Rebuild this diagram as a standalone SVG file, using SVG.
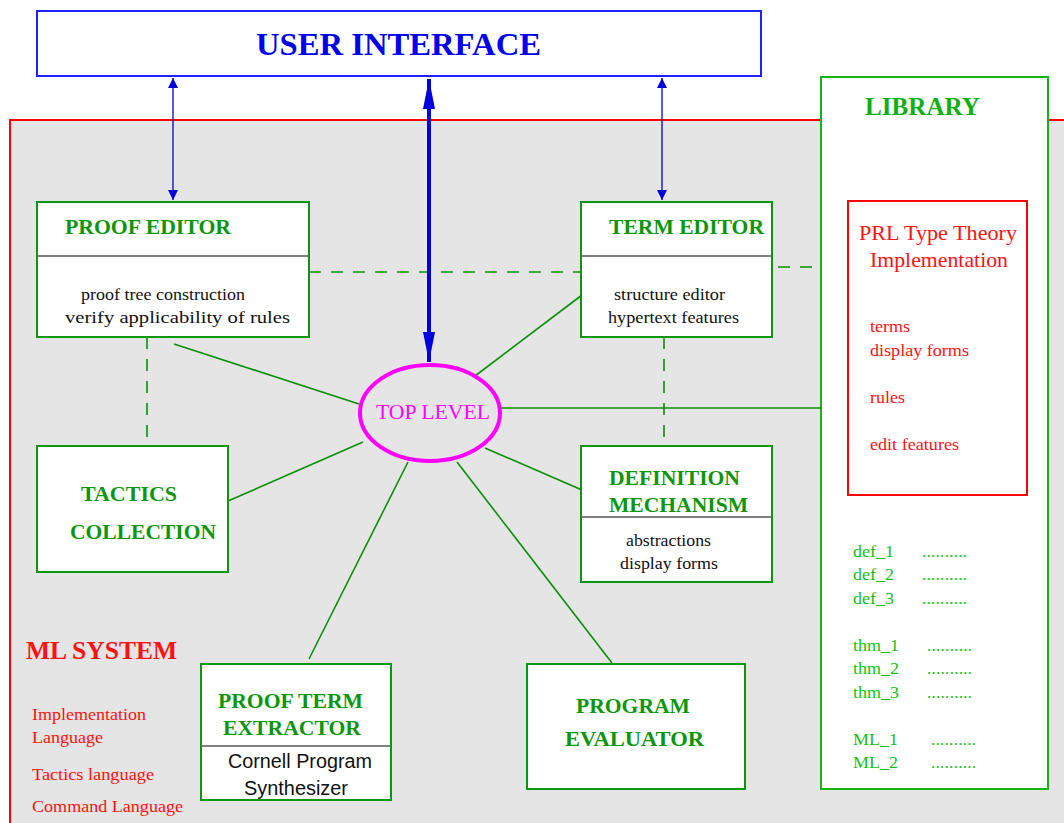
<svg xmlns="http://www.w3.org/2000/svg" width="1064" height="823" viewBox="0 0 1064 823">
  <style>
    .serif { font-family: "Liberation Serif", "Times New Roman", serif; }
    .sans { font-family: "Liberation Sans", Arial, sans-serif; }
    .box { fill: #ffffff; stroke: #0b960b; stroke-width: 2; }
    .lib { fill: #ffffff; stroke: #14b414; stroke-width: 2; }
    .divider { stroke: #555555; stroke-width: 1.5; }
    .title { font-family: "Liberation Serif", "Times New Roman", serif; font-weight: bold; fill: #0b960b; font-size: 21px; }
    .body { font-family: "Liberation Serif", "Times New Roman", serif; font-size: 17px; fill: #111111; }
    .link { stroke: #0b8f0b; stroke-width: 1.6; fill: none; }
    .dash { stroke: #0b8f0b; stroke-width: 1.6; fill: none; stroke-dasharray: 12 10; }
    .red { fill: #ff1111; }
    .libtext { font-family: "Liberation Serif", "Times New Roman", serif; font-size: 17px; fill: #14c014; }
  </style>
  <defs>
    <marker id="thin" viewBox="0 0 10 16" refX="10" refY="8" markerWidth="10" markerHeight="16" markerUnits="userSpaceOnUse" orient="auto-start-reverse">
      <path d="M0,3 L10,8 L0,13 Z" fill="#0000dd"/>
    </marker>
    <marker id="thick" viewBox="0 0 30 12" refX="30" refY="6" markerWidth="30" markerHeight="12" markerUnits="userSpaceOnUse" orient="auto-start-reverse">
      <path d="M0,0 L30,6 L0,12 Z" fill="#0000dd"/>
    </marker>
  </defs>

  <rect width="1064" height="823" fill="#ffffff"/>

  <!-- ML system frame -->
  <g id="ml-system">
    <rect x="10" y="120" width="1070" height="720" fill="#e5e5e5" stroke="#ff0000" stroke-width="2"/>
    <text class="serif red" x="26" y="659" font-size="25" font-weight="bold" textLength="151" lengthAdjust="spacingAndGlyphs">ML SYSTEM</text>
    <text class="serif red" x="32" y="720" font-size="17" textLength="114" lengthAdjust="spacingAndGlyphs">Implementation</text>
    <text class="serif red" x="32" y="743" font-size="17" textLength="71" lengthAdjust="spacingAndGlyphs">Language</text>
    <text class="serif red" x="32" y="780" font-size="17" textLength="122" lengthAdjust="spacingAndGlyphs">Tactics language</text>
    <text class="serif red" x="32" y="812" font-size="17" textLength="151" lengthAdjust="spacingAndGlyphs">Command Language</text>
  </g>

  <!-- User interface -->
  <g id="user-interface">
    <rect x="37" y="11" width="724" height="65" fill="#ffffff" stroke="#2020ff" stroke-width="2"/>
    <text class="serif" x="256" y="55" font-size="32" font-weight="bold" fill="#0000ee" textLength="285" lengthAdjust="spacingAndGlyphs">USER INTERFACE</text>
  </g>

  <!-- Library -->
  <g id="library">
    <rect class="lib" x="821" y="77" width="227" height="712"/>
    <text class="serif" x="865" y="115" font-size="25" font-weight="bold" fill="#0fb00f" textLength="115" lengthAdjust="spacingAndGlyphs">LIBRARY</text>
    <g class="libtext">
      <text x="853" y="557" textLength="41" lengthAdjust="spacingAndGlyphs">def_1</text><text x="922" y="557" textLength="45">..........</text>
      <text x="853" y="580" textLength="41" lengthAdjust="spacingAndGlyphs">def_2</text><text x="922" y="580" textLength="45">..........</text>
      <text x="853" y="604" textLength="41" lengthAdjust="spacingAndGlyphs">def_3</text><text x="922" y="604" textLength="45">..........</text>
      <text x="853" y="651" textLength="46" lengthAdjust="spacingAndGlyphs">thm_1</text><text x="927" y="651" textLength="45">..........</text>
      <text x="853" y="674" textLength="46" lengthAdjust="spacingAndGlyphs">thm_2</text><text x="927" y="674" textLength="45">..........</text>
      <text x="853" y="698" textLength="46" lengthAdjust="spacingAndGlyphs">thm_3</text><text x="927" y="698" textLength="45">..........</text>
      <text x="853" y="745" textLength="45" lengthAdjust="spacingAndGlyphs">ML_1</text><text x="931" y="745" textLength="45">..........</text>
      <text x="853" y="768" textLength="45" lengthAdjust="spacingAndGlyphs">ML_2</text><text x="931" y="768" textLength="45">..........</text>
    </g>
  </g>

  <!-- PRL type theory -->
  <g id="prl-type-theory">
    <rect x="848" y="201" width="179" height="294" fill="#ffffff" stroke="#ff0000" stroke-width="2"/>
    <text class="serif red" x="859" y="240" font-size="21" textLength="158" lengthAdjust="spacingAndGlyphs">PRL Type Theory</text>
    <text class="serif red" x="870" y="267" font-size="21" textLength="138" lengthAdjust="spacingAndGlyphs">Implementation</text>
    <text class="serif red" x="870" y="332" font-size="17" textLength="40" lengthAdjust="spacingAndGlyphs">terms</text>
    <text class="serif red" x="870" y="356" font-size="17" textLength="99" lengthAdjust="spacingAndGlyphs">display forms</text>
    <text class="serif red" x="870" y="403" font-size="17" textLength="35" lengthAdjust="spacingAndGlyphs">rules</text>
    <text class="serif red" x="870" y="450" font-size="17" textLength="89" lengthAdjust="spacingAndGlyphs">edit features</text>
  </g>

  <!-- Connectors -->
  <g id="connectors">
    <line class="dash" x1="309" y1="272" x2="581" y2="272"/>
    <line class="dash" x1="778" y1="267" x2="818" y2="267"/>
    <line class="dash" x1="147" y1="337" x2="147" y2="446"/>
    <line class="dash" x1="664" y1="337" x2="664" y2="446"/>
    <line class="link" x1="174" y1="344" x2="359" y2="404"/>
    <line class="link" x1="582" y1="295" x2="475" y2="376"/>
    <line class="link" x1="501" y1="408" x2="821" y2="408"/>
    <line class="link" x1="228" y1="501" x2="363" y2="442"/>
    <line class="link" x1="582" y1="490" x2="485" y2="448"/>
    <line class="link" x1="309" y1="659" x2="408" y2="462"/>
    <line class="link" x1="457" y1="462" x2="612" y2="663"/>
    <line x1="173" y1="78" x2="173" y2="200" stroke="#0000dd" stroke-width="1.3" marker-start="url(#thin)" marker-end="url(#thin)"/>
    <line x1="662" y1="78" x2="662" y2="200" stroke="#0000dd" stroke-width="1.3" marker-start="url(#thin)" marker-end="url(#thin)"/>
    <line x1="429" y1="79" x2="429" y2="362" stroke="#0000dd" stroke-width="4" marker-start="url(#thick)" marker-end="url(#thick)"/>
  </g>

  <!-- Proof editor -->
  <g id="proof-editor">
    <rect class="box" x="37" y="202" width="272" height="135"/>
    <line class="divider" x1="38" y1="256" x2="308" y2="256"/>
    <text class="title" x="65" y="234" textLength="166" lengthAdjust="spacingAndGlyphs">PROOF EDITOR</text>
    <text class="body" x="81" y="300" textLength="164" lengthAdjust="spacingAndGlyphs">proof tree construction</text>
    <text class="body" x="65" y="323" textLength="225" lengthAdjust="spacingAndGlyphs">verify applicability of rules</text>
  </g>

  <!-- Term editor -->
  <g id="term-editor">
    <rect class="box" x="581" y="202" width="191" height="135"/>
    <line class="divider" x1="582" y1="256" x2="771" y2="256"/>
    <text class="title" x="609" y="234" textLength="155" lengthAdjust="spacingAndGlyphs">TERM EDITOR</text>
    <text class="body" x="614" y="300" textLength="111" lengthAdjust="spacingAndGlyphs">structure editor</text>
    <text class="body" x="608" y="323" textLength="131" lengthAdjust="spacingAndGlyphs">hypertext features</text>
  </g>

  <!-- Top level -->
  <g id="top-level">
    <ellipse cx="430" cy="413" rx="70" ry="48" fill="#e5e5e5" stroke="#ff00ff" stroke-width="4"/>
    <text class="serif" x="376" y="419" font-size="20" fill="#ff00ff" textLength="114" lengthAdjust="spacingAndGlyphs">TOP LEVEL</text>
  </g>

  <!-- Tactics collection -->
  <g id="tactics-collection">
    <rect class="box" x="37" y="446" width="191" height="126"/>
    <text class="title" x="81" y="501" font-size="22" textLength="96" lengthAdjust="spacingAndGlyphs">TACTICS</text>
    <text class="title" x="70" y="539" font-size="22" textLength="146" lengthAdjust="spacingAndGlyphs">COLLECTION</text>
  </g>

  <!-- Definition mechanism -->
  <g id="definition-mechanism">
    <rect class="box" x="581" y="446" width="191" height="136"/>
    <line class="divider" x1="582" y1="517" x2="771" y2="517"/>
    <text class="title" x="609" y="485" textLength="131" lengthAdjust="spacingAndGlyphs">DEFINITION</text>
    <text class="title" x="609" y="512" textLength="139" lengthAdjust="spacingAndGlyphs">MECHANISM</text>
    <text class="body" x="626" y="546" textLength="85" lengthAdjust="spacingAndGlyphs">abstractions</text>
    <text class="body" x="620" y="569" textLength="98" lengthAdjust="spacingAndGlyphs">display forms</text>
  </g>

  <!-- Proof term extractor -->
  <g id="proof-term-extractor">
    <rect class="box" x="201" y="664" width="190" height="136"/>
    <line class="divider" x1="202" y1="746" x2="390" y2="746"/>
    <text class="title" x="218" y="708" textLength="145" lengthAdjust="spacingAndGlyphs">PROOF TERM</text>
    <text class="title" x="223" y="735" textLength="138" lengthAdjust="spacingAndGlyphs">EXTRACTOR</text>
    <text class="sans" x="228" y="768" font-size="19.5" fill="#111111" textLength="144" lengthAdjust="spacingAndGlyphs">Cornell Program</text>
    <text class="sans" x="244" y="795" font-size="19.5" fill="#111111" textLength="104" lengthAdjust="spacingAndGlyphs">Synthesizer</text>
  </g>

  <!-- Program evaluator -->
  <g id="program-evaluator">
    <rect class="box" x="527" y="664" width="218" height="125"/>
    <text class="title" x="576" y="713" font-size="22" textLength="114" lengthAdjust="spacingAndGlyphs">PROGRAM</text>
    <text class="title" x="565" y="746" font-size="22" textLength="139" lengthAdjust="spacingAndGlyphs">EVALUATOR</text>
  </g>
</svg>
